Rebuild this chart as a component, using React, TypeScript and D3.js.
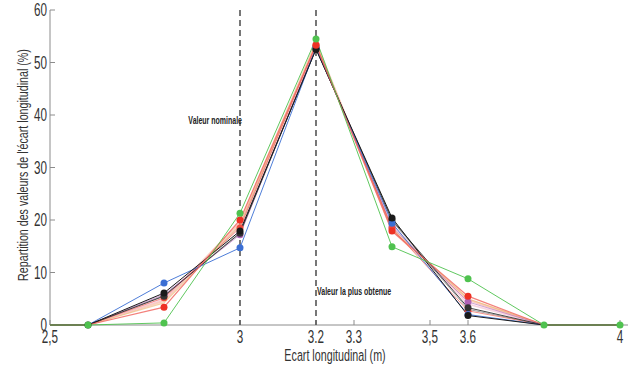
import React from "react";
import * as d3 from "d3";

const xValues = [2.5, 2.6, 2.8, 3.0, 3.2, 3.4, 3.6, 3.8, 4.0];

const seriesSalmon = [0, 0, 4.6, 19.5, 53.8, 18.0, 4.8, 0, 0];
const seriesPink = [0, 0, 5.0, 18.8, 53.2, 19.0, 4.0, 0, 0];
const seriesOrange = [0, 0, 4.2, 19.0, 53.6, 18.4, 5.0, 0, 0];
const seriesGray = [0, 0, 5.6, 17.6, 52.7, 19.8, 3.0, 0, 0];
const seriesPurple = [0, 0, 5.8, 17.2, 53.0, 18.7, 4.4, 0, 0];
const seriesRed2 = [0, 0, 5.2, 18.5, 53.4, 18.4, 2.7, 0, 0];
const seriesBlack2 = [0, 0, 5.5, 17.5, 52.6, 20.0, 3.3, 0, 0];
const seriesBlue = [0, 0, 8.0, 14.7, 52.8, 19.4, 2.0, 0, 0];
const seriesBlack = [0, 0, 6.1, 17.9, 52.5, 20.4, 1.8, 0, 0];
const seriesRed = [0, 0, 3.4, 20.0, 53.3, 17.9, 5.5, 0, 0];
const seriesGreen = [0, 0, 0.4, 21.3, 54.5, 14.9, 8.8, 0, 0];

const xTicks = [2.5, 3, 3.2, 3.3, 3.5, 3.6, 4];
const xTickLabels = ["2,5", "3", "3.2", "3.3", "3,5", "3.6", "4"];
const yTicks = [0, 10, 20, 30, 40, 50, 60];
const refLines = [3.0, 3.2];

const series = [
  { values: seriesSalmon, color: "#f6a58a", width: 2.2, opacity: 0.55, marker: false, zeroMarks: [] as number[] },
  { values: seriesPink, color: "#f2b8cc", width: 1.8, opacity: 0.6, marker: false, zeroMarks: [] as number[] },
  { values: seriesOrange, color: "#e9b36a", width: 1.2, opacity: 0.6, marker: false, zeroMarks: [] as number[] },
  { values: seriesGray, color: "#8a8a8a", width: 1, opacity: 0.8, marker: false, zeroMarks: [] as number[] },
  { values: seriesPurple, color: "#b063b8", width: 1, opacity: 0.6, marker: true, zeroMarks: [] as number[] },
  { values: seriesRed2, color: "#f04a3c", width: 1, opacity: 0.6, marker: true, zeroMarks: [] as number[] },
  { values: seriesBlack2, color: "#333333", width: 1, opacity: 0.9, marker: true, zeroMarks: [] as number[] },
  { values: seriesBlue, color: "#3b6fd4", width: 1, opacity: 0.9, marker: true, zeroMarks: [] as number[] },
  { values: seriesBlack, color: "#1a1a1a", width: 1, opacity: 1, marker: true, zeroMarks: [1] },
  { values: seriesRed, color: "#f0605a", width: 1.2, opacity: 0.8, marker: true, zeroMarks: [] as number[] },
  { values: seriesGreen, color: "#4fc24f", width: 1, opacity: 0.9, marker: true, zeroMarks: [1, 7, 8] },
];

const FONT = "'Liberation Sans', Arial, sans-serif";

export default function App() {
  const W = 632;
  const H = 367;
  const x = d3.scaleLinear().domain([2.5, 4]).range([50, 620]);
  const y = d3.scaleLinear().domain([0, 60]).range([325, 10]);
  const line = d3
    .line<number>()
    .x((_, i) => x(xValues[i]))
    .y((d) => y(d));

  const markerColor = (s: any) => (s.color === "#f0605a" ? "#ee3124" : s.color);

  return (
    <div style={{ position: "absolute", left: 0, top: 0 }}>
      <svg width={W} height={H} style={{ display: "block", background: "#fff" }}>
        {/* axes */}
        <line x1={x(2.5)} x2={628} y1={y(0)} y2={y(0)} stroke="#8c8c8c" strokeWidth={1} />
        <line x1={x(2.5)} x2={x(2.5)} y1={y(0)} y2={y(60)} stroke="#8c8c8c" strokeWidth={1} />
        {yTicks.map((t) => (
          <g key={"y" + t}>
            <line x1={x(2.5)} x2={x(2.5) + 5} y1={y(t)} y2={y(t)} stroke="#8c8c8c" />
            <text
              transform={`translate(${x(2.5) - 3},${y(t) + 6}) scale(0.65,1)`}
              textAnchor="end"
              fontFamily={FONT}
              fontSize={18}
              fill="#333"
            >
              {t}
            </text>
          </g>
        ))}
        {xTicks.map((t, i) => (
          <g key={"x" + t}>
            <line x1={x(t)} x2={x(t)} y1={y(0)} y2={y(0) - 5} stroke="#8c8c8c" />
            <text
              transform={`translate(${x(t)},${343}) scale(0.65,1)`}
              textAnchor="middle"
              fontFamily={FONT}
              fontSize={18}
              fill="#333"
            >
              {xTickLabels[i]}
            </text>
          </g>
        ))}
        {/* reference dashed lines */}
        {refLines.map((r) => (
          <line
            key={"r" + r}
            x1={x(r)}
            x2={x(r)}
            y1={y(60)}
            y2={y(0)}
            stroke="#555"
            strokeWidth={1.6}
            strokeDasharray="6,4"
          />
        ))}
        {/* series */}
        {series.map((s, si) => (
          <path
            key={"p" + si}
            d={line(s.values) || ""}
            fill="none"
            stroke={s.color}
            strokeWidth={s.width}
            strokeOpacity={s.opacity}
          />
        ))}
        {series.map((s, si) =>
          s.marker
            ? s.values.map((v, i) =>
                v === 0 && !s.zeroMarks.includes(i) ? null : (
                  <circle
                    key={"c" + si + "-" + i}
                    cx={x(xValues[i])}
                    cy={y(v)}
                    r={3.5}
                    fill={markerColor(s)}
                  />
                )
              )
            : null
        )}
        {/* annotations */}
        <text
          transform={`translate(${x(3.0) + 2},124) scale(0.7,1)`}
          textAnchor="end"
          fontFamily={FONT}
          fontSize={10}
          fontWeight="bold"
          fill="#222"
        >
          Valeur nominale
        </text>
        <text
          transform={`translate(${x(3.2) + 1},295) scale(0.7,1)`}
          textAnchor="start"
          fontFamily={FONT}
          fontSize={10}
          fontWeight="bold"
          fill="#222"
        >
          Valeur la plus obtenue
        </text>
        {/* axis titles */}
        <text
          transform={`translate(335,361) scale(0.65,1)`}
          textAnchor="middle"
          fontFamily={FONT}
          fontSize={16.5}
          fill="#333"
        >
          Ecart longitudinal (m)
        </text>
        <text
          transform={`translate(28,165) rotate(-90) scale(0.69,1)`}
          textAnchor="middle"
          fontFamily={FONT}
          fontSize={15.5}
          fill="#333"
        >
          Repartition des valeurs de l'écart longitudinal (%)
        </text>
      </svg>
    </div>
  );
}
